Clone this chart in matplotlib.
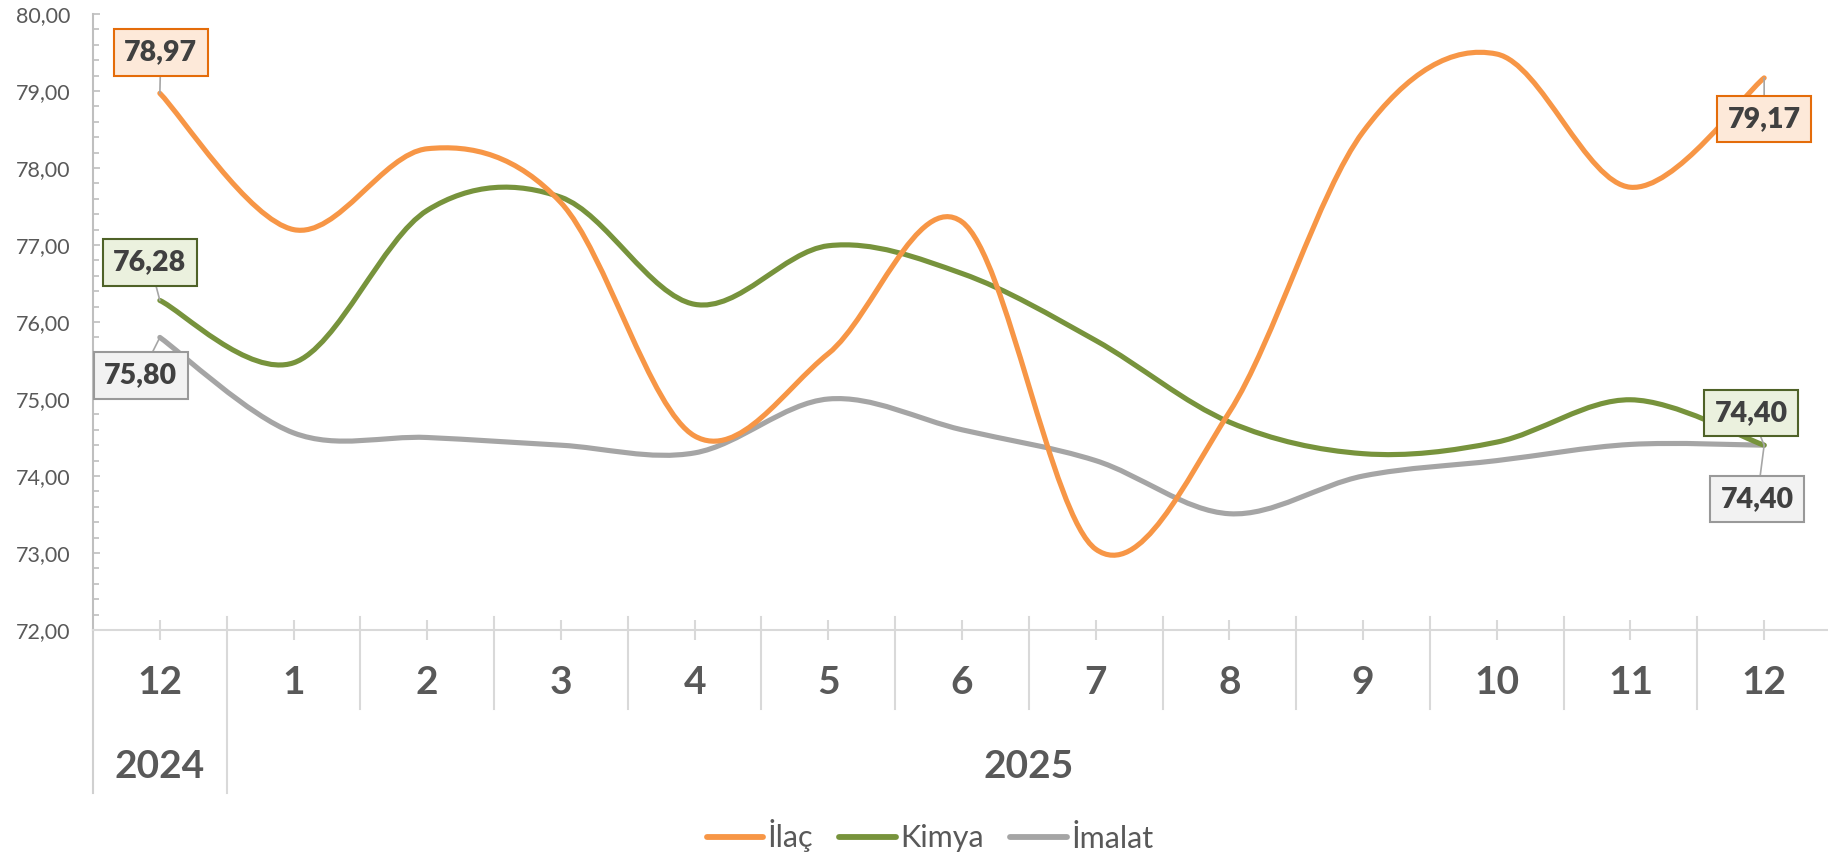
import matplotlib
matplotlib.use("Agg")
import matplotlib.pyplot as plt
from matplotlib.path import Path
from matplotlib.patches import PathPatch
from matplotlib.lines import Line2D
from matplotlib.ticker import MultipleLocator, FuncFormatter

plt.rcParams['font.family'] = ['Lato', 'DejaVu Sans']

months = ['12', '1', '2', '3', '4', '5', '6', '7', '8', '9', '10', '11', '12']
years = ['2024', '2025']
year_span = [(0, 0), (1, 12)]

ilac = [78.97, 77.20, 78.25, 77.55, 74.52, 75.59, 77.30, 73.05, 74.83, 78.47, 79.48, 77.75, 79.17]
kimya = [76.28, 75.47, 77.45, 77.62, 76.23, 76.99, 76.63, 75.76, 74.70, 74.29, 74.44, 74.99, 74.40]
imalat = [75.80, 74.56, 74.50, 74.40, 74.30, 75.00, 74.60, 74.20, 73.51, 74.00, 74.20, 74.41, 74.40]

names = ['İlaç', 'Kimya', 'İmalat']
colors = ['#F79646', '#77933C', '#A5A5A5']
box_fc = ['#FDE9D9', '#EBF1DE', '#F2F2F2']
box_ec = ['#E46C0A', '#4F6228', '#999999']

# label offsets (pixels) for first / last point of each series
first_off = [(1, 41), (-10, 38), (-19, -38)]
last_off = [(0, -41), (-13, 32), (-7, -54)]


def smooth_path(ys):
    # excel-like smoothed line: cubic bezier through every point
    pts = [(i, y) for i, y in enumerate(ys)]
    n = len(pts)
    verts = [pts[0]]
    codes = [Path.MOVETO]
    for i in range(n - 1):
        p0 = pts[max(i - 1, 0)]
        p1 = pts[i]
        p2 = pts[i + 1]
        p3 = pts[min(i + 2, n - 1)]
        c1 = (p1[0] + (p2[0] - p0[0]) / 6, p1[1] + (p2[1] - p0[1]) / 6)
        c2 = (p2[0] - (p3[0] - p1[0]) / 6, p2[1] - (p3[1] - p1[1]) / 6)
        verts += [c1, c2, p2]
        codes += [Path.CURVE4] * 3
    return Path(verts, codes)


fig = plt.figure(figsize=(18.28, 8.56), dpi=100)
ax = fig.add_axes([93 / 1828, 226 / 856, 1738 / 1828, 616 / 856])

series = [ilac, kimya, imalat]
for k in [2, 1, 0]:
    ax.add_patch(PathPatch(smooth_path(series[k]), fill=False, ec=colors[k],
                           lw=3.7, capstyle='round', joinstyle='round', zorder=3 + (k == 0)))

ax.set_xlim(-0.5, 12.5)
ax.set_ylim(72, 80)

for s in ['top', 'right']:
    ax.spines[s].set_visible(False)
ax.spines['left'].set_color('#BFBFBF')
ax.spines['left'].set_linewidth(1.5)
ax.spines['bottom'].set_color('#D9D9D9')
ax.spines['bottom'].set_linewidth(1.5)

ax.yaxis.set_major_locator(MultipleLocator(1))
ax.yaxis.set_minor_locator(MultipleLocator(0.2))
ax.yaxis.set_major_formatter(FuncFormatter(lambda v, p: f'{v:.2f}'.replace('.', ',')))
ax.tick_params(axis='y', which='major', direction='in', length=5, width=1.2,
               color='#BFBFBF', labelcolor='#595959', labelsize=15.5, pad=16)
ax.tick_params(axis='y', which='minor', direction='in', length=4.5, width=1.2, color='#BFBFBF')

ax.set_xticks(range(len(months)))
ax.set_xticklabels([])
ax.tick_params(axis='x', direction='inout', length=14, width=1.5, color='#D9D9D9')

tr = ax.get_xaxis_transform()


def yax(px):
    return (630 - px) / 616


for i in range(len(months) - 1):
    bottom = 793 if i == 0 else 709
    ax.plot([i + 0.5, i + 0.5], [yax(617), yax(bottom)], transform=tr,
            color='#D9D9D9', lw=1.5, clip_on=False)
ax.plot([-0.5, -0.5], [0, yax(793)], transform=tr, color='#D0D0D0', lw=1.5, clip_on=False)

for i, m in enumerate(months):
    ax.text(i, yax(682), m, transform=tr, ha='center', va='center',
            fontsize=28, fontweight='bold', color='#595959')
for (a, b), yr in zip(year_span, years):
    ax.text((a + b) / 2, yax(766), yr, transform=tr, ha='center', va='center',
            fontsize=28, fontweight='bold', color='#595959')

last = len(months) - 1
for k in range(3):
    for idx, off in [(0, first_off[k]), (last, last_off[k])]:
        v = series[k][idx]
        ax.annotate(f'{v:.2f}'.replace('.', ','), xy=(idx, v), xytext=off,
                    textcoords='offset pixels', ha='center', va='center',
                    fontsize=20.5, fontweight='heavy', color='#404040', zorder=6,
                    bbox=dict(boxstyle='square,pad=0.36', fc=box_fc[k], ec=box_ec[k], lw=1.5),
                    arrowprops=dict(arrowstyle='-', color='#A6A6A6', lw=1.2,
                                    shrinkA=0, shrinkB=0),
                    annotation_clip=False)

handles = [Line2D([], [], color=c, lw=4.2, solid_capstyle='round') for c in colors]
leg = fig.legend(handles, names, loc='center', bbox_to_anchor=(930 / 1828, 1 - 836 / 856),
                 ncol=3, frameon=False, fontsize=22, handlelength=1.85,
                 handletextpad=0.15, columnspacing=0.85)
for t in leg.get_texts():
    t.set_color('#595959')

fig.savefig('out.png', dpi=100)
